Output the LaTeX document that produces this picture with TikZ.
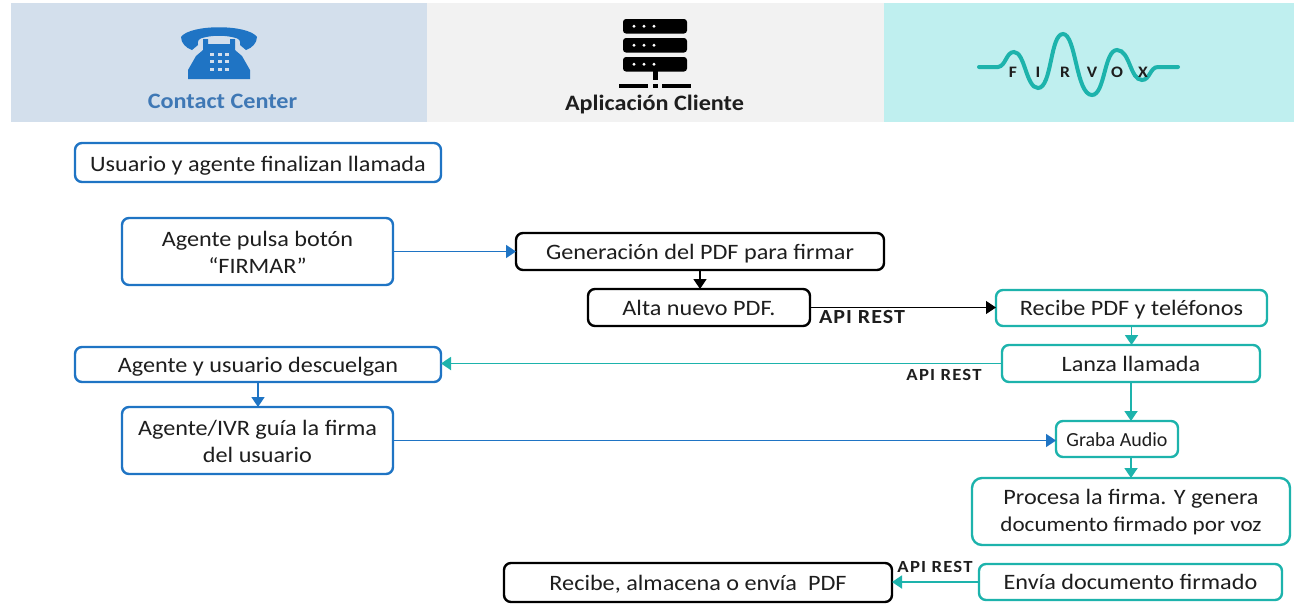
\documentclass[tikz,border=0pt]{standalone}
\usepackage{fontspec}
\setmainfont[FakeStretch=1.1]{Carlito}
\usetikzlibrary{arrows.meta}
\definecolor{bluec}{HTML}{1F74C4}
\definecolor{tealc}{HTML}{1DB3AC}
\definecolor{ink}{HTML}{1E1E1E}
\definecolor{hblue}{HTML}{D3DFEC}
\definecolor{hgrey}{HTML}{F2F2F2}
\definecolor{hteal}{HTML}{BFEFEF}
\definecolor{cctext}{HTML}{3F78B5}
\newfontfamily\apifont[FakeStretch=1.1,LetterSpace=5,BoldFont={Carlito Bold}]{Carlito}
\newfontfamily\apifontb[FakeStretch=1.1,LetterSpace=7,BoldFont={Carlito Bold}]{Carlito}
\newfontfamily\plainfont{Carlito}
\newcommand{\firstline}{\rule{0pt}{17pt}}
\tikzset{
  box/.style={draw,rounded corners=7,line width=2.4,fill=white,align=center,inner sep=0,outer sep=0,text=ink,font=\fontsize{22}{27}\selectfont},
  oneline/.style={text height=20,text depth=5},
  bluebox/.style={box,draw=bluec},
  blackbox/.style={box,draw=black},
  tealbox/.style={box,draw=tealc},
  conn/.style={line width=1.6,-{Triangle[length=10,width=13]}},
  connt/.style={conn,line width=1.9},
  apilab/.style={text=ink,inner sep=0},
  hlabel/.style={font=\bfseries\fontsize{22}{26}\selectfont,inner sep=0}
}
\begin{document}
\begin{tikzpicture}[x=1pt,y=-1pt]
\useasboundingbox (0,0) rectangle (1294,606);
% header bands
\fill[hblue] (11,3) rectangle (427,122);
\fill[hgrey] (427,3) rectangle (884,122);
\fill[hteal] (884,3) rectangle (1294,122);
% phone icon
\fill[bluec] (181,37) .. controls (190,24) and (248,24) .. (257,37)
  .. controls (257,43) and (252,48) .. (246,50) -- (240,45)
  .. controls (241,41) and (239,39) .. (236,38)
  .. controls (226,35) and (212,35) .. (202,38)
  .. controls (199,39) and (197,41) .. (198,45) -- (192,50)
  .. controls (186,48) and (181,43) .. (181,37) -- cycle;
\fill[bluec] (203,39) -- (208,39) -- (208,44) -- (230,44) -- (230,39) -- (235,39) -- (235,50)
  -- (242,56) -- (250,70) -- (250,79) -- (188,79) -- (188,70) -- (196,56) -- (203,50) -- cycle;
\foreach \px in {212,219.5,227} \foreach \py in {54.5,61.5,69.5}
  \fill[hblue] (\px-2,\py-1.8) rectangle (\px+2,\py+1.8);
\node[hlabel,text=cctext] (cc) at (222.5,101) {Contact Center};
% server icon
\foreach \py in {19,38,57}{
  \fill[black,rounded corners=3] (623,\py) rectangle (687,\py+14.5);
  \foreach \px in {634,644,654} \fill[white] (\px,\py+7.2) circle (1.6);
}
\fill[black] (652.5,71) rectangle (657.5,80);
\fill[black] (619,83.5) rectangle (648,87.5);
\fill[black] (652.5,83.5) rectangle (657.5,87.5);
\fill[black] (662,83.5) rectangle (691,87.5);
\node[hlabel,text=ink] (ac) at (654.5,105) {Aplicación Cliente};
% firvox logo
\draw[tealc,line width=4,line cap=round]
  (979,67) -- (998,67) .. controls (1006,66) and (1006,52) .. (1014,52)
  .. controls (1025,52) and (1026,88) .. (1038,88)
  .. controls (1052,88) and (1050,34) .. (1063,34)
  .. controls (1076,34) and (1076,95) .. (1092,95)
  .. controls (1105,95) and (1104,50) .. (1117,50)
  .. controls (1130,50) and (1130,80) .. (1142,80)
  .. controls (1150,80) and (1150,67) .. (1158,67) -- (1178,67);
\foreach \lx/\lt in {1013/F,1038/I,1065/R,1092/V,1117/O,1143/X}
  \node[font=\bfseries\fontsize{16}{16}\selectfont,text=ink,inner sep=0] at (\lx,72) {\lt};
% boxes
\node[bluebox,text height=22,text depth=4,minimum width=366,minimum height=39] (fin) at (258,162.5) {Usuario y agente finalizan llamada};
\node[bluebox,minimum width=271,minimum height=67] (pulsa) at (257.5,251.5) {\firstline Agente pulsa botón\\“FIRMAR”};
\node[blackbox,oneline,minimum width=368,minimum height=37] (gen) at (700,251.5) {Generación del PDF para firmar};
\node[blackbox,oneline,minimum width=222,minimum height=37] (alta) at (699,307.5) {Alta nuevo PDF.};
\node[tealbox,oneline,minimum width=271,minimum height=36] (rec) at (1131.5,308) {Recibe PDF y teléfonos};
\node[tealbox,oneline,minimum width=258,minimum height=37] (lanza) at (1131,363.5) {Lanza llamada};
\node[bluebox,oneline,minimum width=366,minimum height=35] (desc) at (258,364.5) {Agente y usuario descuelgan};
\node[bluebox,minimum width=271,minimum height=67] (guia) at (257.5,440.5) {\firstline Agente/IVR guía la firma\\del usuario};
\node[tealbox,oneline,font=\plainfont\fontsize{20}{27}\selectfont,minimum width=122,minimum height=36] (graba) at (1117,439) {Graba Audio};
\node[tealbox,minimum width=318,minimum height=67,rounded corners=10] (proc) at (1131,511.5) {\firstline Procesa la firma. Y genera\\{\fontsize{21}{27}\selectfont documento firmado por voz}};
\node[tealbox,oneline,minimum width=303,minimum height=36] (envia) at (1130.5,582) {Envía documento firmado};
\node[blackbox,oneline,minimum width=388,minimum height=39] (alm) at (698,582.5) {Recibe, almacena o envía~~PDF};
% connectors
\draw[conn,bluec] (pulsa.east) -- (gen.west);
\draw[conn,black] (gen.south) -- (gen.south |- alta.north);
\draw[conn,black,line width=1.2] (alta.east) -- (alta.east -| rec.west);
\draw[connt,tealc] (rec.south) -- (rec.south |- lanza.north);
\draw[connt,tealc] (lanza.west) -- (lanza.west -| desc.east);
\draw[conn,bluec] (desc.south) -- (desc.south |- guia.north);
\draw[conn,bluec] (guia.east) -- (guia.east -| graba.west);
\draw[connt,tealc] (lanza.south) -- (lanza.south |- graba.north);
\draw[connt,tealc] (proc.north |- graba.south) -- (proc.north);
\draw[connt,tealc] (envia.west) -- (envia.west -| alm.east);
% labels
\node[apilab,font=\apifont\bfseries\fontsize{20}{22}\selectfont] (api1) at (862,317) {API REST};
\node[apilab,font=\apifontb\bfseries\fontsize{17}{20}\selectfont] (api2) at (944,375) {API REST};
\node[apilab,font=\apifontb\bfseries\fontsize{17}{20}\selectfont] (api3) at (935,567) {API REST};
\end{tikzpicture}
\end{document}
